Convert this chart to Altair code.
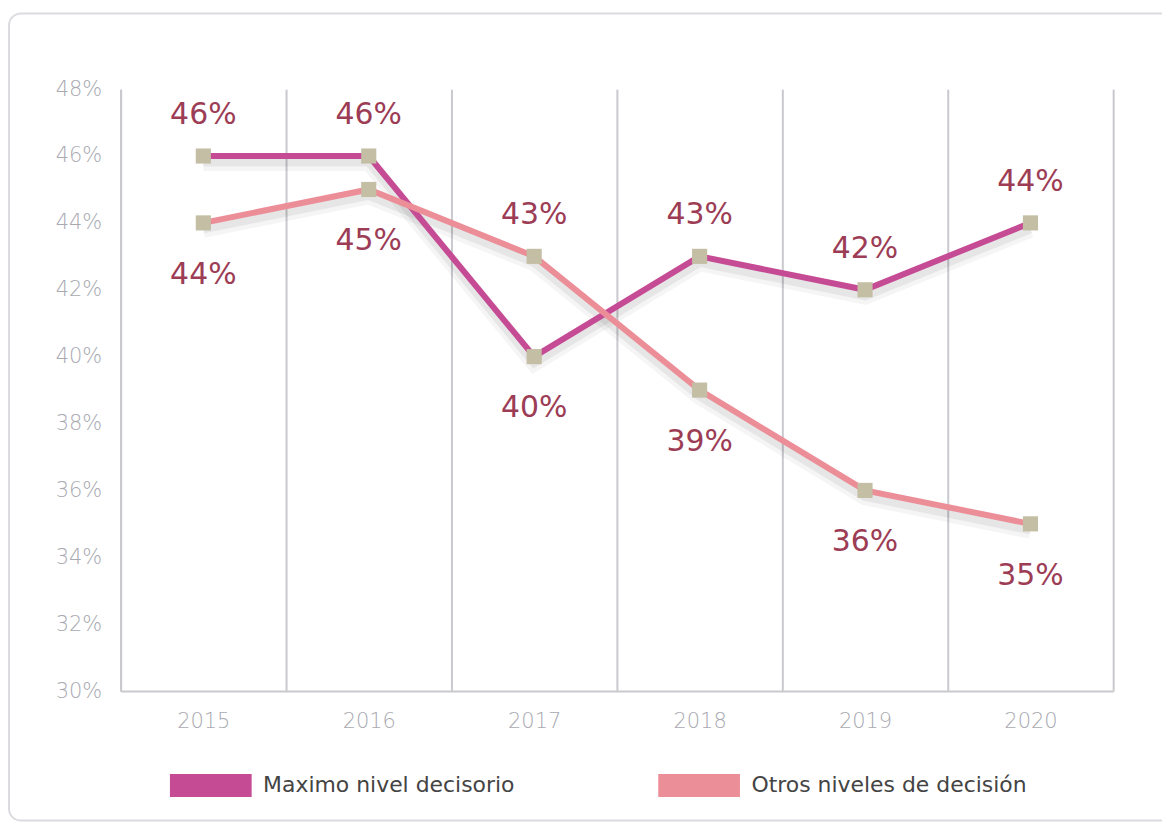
import altair as alt
import pandas as pd

years = ["2015", "2016", "2017", "2018", "2019", "2020"]
series_names = ["Maximo nivel decisorio", "Otros niveles de decisión"]
maximo = [46, 46, 40, 43, 42, 44]
otros = [44, 45, 43, 39, 36, 35]
maximo_label_pos = ["above", "above", "below", "above", "above", "above"]
otros_label_pos = ["below", "below", "above", "below", "below", "below"]
y_ticks = [30, 32, 34, 36, 38, 40, 42, 44, 46, 48]
series_colors = ["#C64B95", "#EC8E97"]

rows = []
for yr, v, p in zip(years, maximo, maximo_label_pos):
    rows.append({"year": yr, "serie": series_names[0], "value": v / 100, "pos": p})
for yr, v, p in zip(years, otros, otros_label_pos):
    rows.append({"year": yr, "serie": series_names[1], "value": v / 100, "pos": p})
df = pd.DataFrame(rows)

W, H = 996, 604
GRID = "#C9C9CE"
AXLAB = "#A9A9B1"
FONT = "DejaVu Sans"

x_enc = alt.X(
    "year:N",
    sort=years,
    bandPosition=0.5,
    scale=alt.Scale(type="band", paddingInner=0, paddingOuter=0),
    axis=alt.Axis(
        title=None, tickBand="extent", grid=True, gridColor=GRID, gridWidth=2,
        ticks=False, labelAngle=0, labelFont=FONT, labelFontSize=21,
        labelFontWeight=300, labelColor=AXLAB, labelPadding=20,
        domainColor=GRID, domainWidth=2,
    ),
)
y_enc = alt.Y(
    "value:Q",
    scale=alt.Scale(domain=[0.30, 0.48], nice=False, zero=False),
    axis=alt.Axis(
        title=None, values=[t / 100 for t in y_ticks], format=".0%", grid=False,
        ticks=False, labelFont=FONT, labelFontSize=21, labelFontWeight=300,
        labelColor=AXLAB, labelPadding=19, domainColor=GRID, domainWidth=2,
    ),
)

base = alt.Chart(df)

card = alt.Chart(alt.Data(values=[{}])).mark_rect(
    fill="white", fillOpacity=0, stroke="#DCDCE0", strokeWidth=2, cornerRadius=12
).encode(x=alt.value(-112), x2=alt.value(1075), y=alt.value(-76), y2=alt.value(734))

shadow_wide = base.mark_line(color="#000000", opacity=0.04, strokeWidth=16, yOffset=7).encode(
    x=x_enc, y=y_enc, detail="serie:N"
)
shadow = base.mark_line(color="#000000", opacity=0.06, strokeWidth=9, yOffset=6).encode(
    x=x_enc, y=y_enc, detail="serie:N"
)
lines = base.mark_line(strokeWidth=6).encode(
    x=x_enc, y=y_enc,
    color=alt.Color(
        "serie:N",
        scale=alt.Scale(domain=series_names, range=series_colors),
        legend=alt.Legend(
            title=None, orient="none", legendX=38, legendY=646, direction="horizontal",
            columns=2, columnPadding=73, gridAlign="all",
            symbolType="M-1,0L1,0", symbolSize=6724,
            symbolStrokeWidth=23, symbolOpacity=1, labelOffset=0,
            labelFont=FONT, labelFontSize=22, labelColor="#444444", labelLimit=500,
            padding=0,
        ),
    ),
)
squares = base.mark_square(size=230, color="#C3BEA4", opacity=1).encode(x=x_enc, y=y_enc)

text_style = dict(font=FONT, fontSize=30, color="#9C3C55", baseline="middle", align="center")
labels_above = base.transform_filter(alt.datum.pos == "above").mark_text(dy=-41, **text_style).encode(
    x=x_enc, y=y_enc, text=alt.Text("value:Q", format=".0%")
)
labels_below = base.transform_filter(alt.datum.pos == "below").mark_text(dy=52, **text_style).encode(
    x=x_enc, y=y_enc, text=alt.Text("value:Q", format=".0%")
)

chart = alt.layer(
    card, shadow_wide, shadow, lines, squares, labels_above, labels_below
).properties(
    width=W, height=H,
    autosize=alt.AutoSizeParams(type="none"),
    padding={"left": 113, "top": 80, "right": 49, "bottom": 133},
).configure_view(stroke=None)

chart.save("out.html", embed_options={"renderer": "svg", "actions": False})
